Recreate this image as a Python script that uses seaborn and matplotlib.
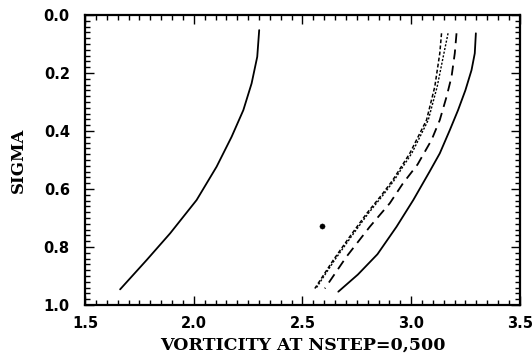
import matplotlib
matplotlib.use("Agg")
import matplotlib.pyplot as plt
import seaborn as sns
import numpy as np
import pandas as pd
from matplotlib.ticker import MultipleLocator, FormatStrFormatter

sns.set_theme(style="white")
plt.rcParams['font.family'] = ['DejaVu Sans']

# Data (vorticity vs sigma)
left_solid_x = [2.301, 2.292, 2.266, 2.228, 2.174, 2.105, 2.013, 1.891, 1.783, 1.661]
left_solid_y = [0.052, 0.144, 0.236, 0.328, 0.420, 0.523, 0.638, 0.753, 0.845, 0.946]

right_solid_x = [3.298, 3.293, 3.278, 3.250, 3.216, 3.178, 3.132, 3.085, 3.010, 2.933, 2.845, 2.755, 2.665]
right_solid_y = [0.063, 0.132, 0.190, 0.259, 0.328, 0.397, 0.477, 0.540, 0.638, 0.730, 0.825, 0.895, 0.954]

long_dash_x = [3.209, 3.201, 3.186, 3.163, 3.132, 3.094, 3.030, 2.963, 2.902, 2.810, 2.703, 2.603]
long_dash_y = [0.063, 0.132, 0.213, 0.282, 0.362, 0.431, 0.515, 0.580, 0.649, 0.730, 0.833, 0.943]

short_dash_a_x = [3.140, 3.132, 3.109, 3.071, 2.994, 2.955, 2.915, 2.865, 2.795, 2.718, 2.642, 2.557]
short_dash_a_y = [0.063, 0.132, 0.247, 0.362, 0.477, 0.523, 0.570, 0.620, 0.685, 0.764, 0.845, 0.943]

short_dash_b_x = [3.170, 3.151, 3.120, 3.079, 3.003, 2.962, 2.922, 2.872, 2.802, 2.725, 2.648, 2.562]
short_dash_b_y = [0.063, 0.132, 0.247, 0.362, 0.477, 0.523, 0.570, 0.620, 0.685, 0.764, 0.845, 0.943]

dot_x = [2.588]
dot_y = [0.728]

x_ticks = [1.5, 2.0, 2.5, 3.0, 3.5]
y_ticks = [0.0, 0.2, 0.4, 0.6, 0.8, 1.0]

fig = plt.figure(figsize=(5.32, 3.58), dpi=100)
ax = fig.add_axes([0.160, 0.148, 0.817, 0.810])

lw = 1.3
sns.lineplot(x=left_solid_x, y=left_solid_y, sort=False, ax=ax, color="black", lw=lw)
sns.lineplot(x=right_solid_x, y=right_solid_y, sort=False, ax=ax, color="black", lw=lw)
sns.lineplot(x=long_dash_x, y=long_dash_y, sort=False, ax=ax, color="black", lw=lw)
ax.lines[-1].set_dashes([5.5, 3.5])
sns.lineplot(x=short_dash_a_x, y=short_dash_a_y, sort=False, ax=ax, color="black", lw=1.1)
ax.lines[-1].set_dashes([2.5, 1.5])
sns.lineplot(x=short_dash_b_x, y=short_dash_b_y, sort=False, ax=ax, color="black", lw=1.0)
ax.lines[-1].set_dashes([1.5, 1.2])
sns.scatterplot(x=dot_x, y=dot_y, ax=ax, color="black", s=14, marker="o", edgecolor="black")

ax.set_xlim(1.5, 3.5)
ax.set_ylim(1.0, 0.0)
ax.set_xticks(x_ticks)
ax.set_yticks(y_ticks)
ax.xaxis.set_major_formatter(FormatStrFormatter('%.1f'))
ax.yaxis.set_major_formatter(FormatStrFormatter('%.1f'))
ax.xaxis.set_minor_locator(MultipleLocator(0.05))
ax.yaxis.set_minor_locator(MultipleLocator(0.02))
ax.tick_params(which='both', direction='in', top=True, right=True, bottom=True, left=True,
               color='black', width=1.0)
ax.tick_params(which='major', length=6.5)
ax.tick_params(which='minor', length=3.5)
ax.tick_params(axis='x', which='major', labelsize=10.5, pad=8)
ax.tick_params(axis='y', which='major', labelsize=10.5, pad=11)
for lab in ax.get_xticklabels() + ax.get_yticklabels():
    lab.set_fontweight('bold')
    lab.set_color('black')

for sp in ax.spines.values():
    sp.set_color('black')
    sp.set_linewidth(1.6)

ax.set_xlabel("VORTICITY AT NSTEP=0,500", family="DejaVu Serif", fontsize=12.5,
              fontweight='bold', color='black', labelpad=4)
ax.set_ylabel("SIGMA", family="DejaVu Serif", fontsize=12, fontweight='bold',
              color='black', labelpad=12)

fig.savefig("out.png", dpi=100)
